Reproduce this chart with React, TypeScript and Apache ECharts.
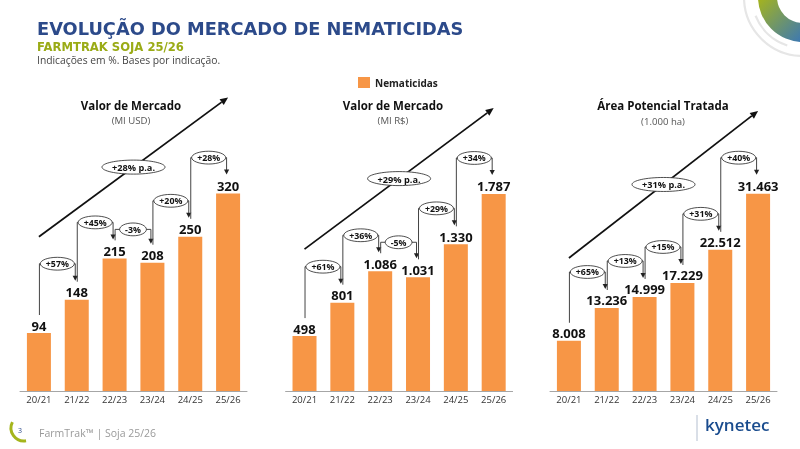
import React, { useEffect, useRef } from "react";
import * as echarts from "echarts";

const categories = ["20/21", "21/22", "22/23", "23/24", "24/25", "25/26"];

const usdValues = [94, 148, 215, 208, 250, 320];
const usdGrowth = ["+57%", "+45%", "-3%", "+20%", "+28%"];
const usdCagr = "+28% p.a.";
const usdTrend = [250, 476];

const brlValues = [498, 801, 1086, 1031, 1330, 1787];
const brlGrowth = ["+61%", "+36%", "-5%", "+29%", "+34%"];
const brlCagr = "+29% p.a.";
const brlTrend = [1287, 2566];

const areaValues = [8008, 13236, 14999, 17229, 22512, 31463];
const areaGrowth = ["+65%", "+13%", "+15%", "+31%", "+40%"];
const areaCagr = "+31% p.a.";
const areaTrend = [21212, 44657];

const panelTitles = ["Valor de Mercado", "Valor de Mercado", "Área Potencial Tratada"];
const panelUnits = ["(MI USD)", "(MI R$)", "(1.000 ha)"];
const axisMax = [488, 2730, 48000];

const ORANGE = "#F79646";
const BODY = '"Open Sans", "DejaVu Sans", sans-serif';
const HEAD = '"DejaVu Sans", sans-serif';

let measureCtx: CanvasRenderingContext2D | null = null;
function textWidth(t: string, font: string) {
  if (!measureCtx) measureCtx = document.createElement("canvas").getContext("2d");
  if (!measureCtx) return t.length * 5;
  measureCtx.font = font;
  return measureCtx.measureText(t).width;
}

function fmt(v: number) {
  return String(v).replace(/\B(?=(\d{3})+(?!\d))/g, ".");
}

function txt(text: string, x: number, y: number, font: string, fill: string, align = "center") {
  return {
    type: "text",
    x,
    y,
    style: {
      text,
      font,
      fill,
      align,
      textAlign: align,
      verticalAlign: "middle",
      textVerticalAlign: "middle",
    },
  };
}

const pillFont = `bold 8.8px ${BODY}`;
const cagrFont = `bold 9.2px ${BODY}`;

function bracketSeries(idx: number, values: number[], growth: string[]) {
  return {
    type: "custom",
    xAxisIndex: idx,
    yAxisIndex: idx,
    silent: true,
    z: 5,
    data: growth.map((_, i) => [i, values[i]]),
    encode: { x: 0, y: 1 },
    renderItem: (params: any, api: any) => {
      const i = params.dataIndex;
      const p0 = api.coord([i, values[i]]);
      const p1 = api.coord([i + 1, values[i + 1]]);
      const sx = p0[0] + 0.5;
      const sy = p0[1] - 18;
      const ex = p1[0] - 1.5;
      const ty = p1[1] - 19;
      const inc = values[i + 1] >= values[i];
      const h = Math.min(sy, ty) - (inc ? 17 : 11);
      const label = growth[i];
      const rx = textWidth(label, pillFont) / 2 + 5.5;
      const cx = (sx + ex) / 2;
      return {
        type: "group",
        children: [
          {
            type: "polyline",
            shape: { points: [[sx, sy], [sx, h], [ex, h], [ex, ty - 4]] },
            style: { stroke: "#444", lineWidth: 1, fill: null },
          },
          {
            type: "polygon",
            shape: { points: [[ex - 2.6, ty - 5], [ex + 2.6, ty - 5], [ex, ty]] },
            style: { fill: "#222" },
          },
          {
            type: "ellipse",
            shape: { cx, cy: h, rx, ry: 6.4 },
            style: { fill: "#fff", stroke: "#222", lineWidth: 0.8 },
          },
          txt(label, cx, h + 0.5, pillFont, "#111"),
        ],
      };
    },
  };
}

function trendSeries(idx: number, trend: number[], label: string) {
  return {
    type: "custom",
    xAxisIndex: idx,
    yAxisIndex: idx,
    silent: true,
    z: 6,
    data: [[0, trend[0], 5, trend[1]]],
    encode: { x: 0, y: 1 },
    renderItem: (params: any, api: any) => {
      const a = api.coord([api.value(0), api.value(1)]);
      const b = api.coord([api.value(2), api.value(3)]);
      const dx = b[0] - a[0];
      const dy = b[1] - a[1];
      const len = Math.sqrt(dx * dx + dy * dy);
      const ux = dx / len;
      const uy = dy / len;
      const L = 8;
      const W = 3.5;
      const bx = b[0] - ux * L;
      const by = b[1] - uy * L;
      const mx = (a[0] + b[0]) / 2;
      const my = (a[1] + b[1]) / 2;
      const rx = textWidth(label, cagrFont) / 2 + 10;
      return {
        type: "group",
        children: [
          {
            type: "line",
            shape: { x1: a[0], y1: a[1], x2: bx, y2: by },
            style: { stroke: "#111", lineWidth: 1.8 },
          },
          {
            type: "polygon",
            shape: {
              points: [
                [b[0], b[1]],
                [bx - uy * W, by + ux * W],
                [bx + uy * W, by - ux * W],
              ],
            },
            style: { fill: "#111" },
          },
          {
            type: "ellipse",
            shape: { cx: mx, cy: my, rx, ry: 7 },
            style: { fill: "#fff", stroke: "#222", lineWidth: 0.8 },
          },
          txt(label, mx, my + 0.5, cagrFont, "#111"),
        ],
      };
    },
  };
}

function barSeries(idx: number, values: number[]) {
  return {
    type: "bar",
    name: "Nematicidas",
    xAxisIndex: idx,
    yAxisIndex: idx,
    data: values,
    barWidth: 24,
    itemStyle: { color: ORANGE },
    label: {
      show: true,
      position: "top",
      distance: 1,
      formatter: (p: any) => fmt(p.value),
      fontFamily: BODY,
      fontWeight: "bold",
      fontSize: 13,
      color: "#111",
    },
  };
}

const gridLefts = [20, 285.6, 550];

export default function App() {
  const ref = useRef<HTMLDivElement>(null);
  useEffect(() => {
    if (!ref.current) return;
    const chart = echarts.init(ref.current, null, { renderer: "svg" });
    const grids = gridLefts.map((l) => ({ left: l, width: 227, top: 90, bottom: 58 }));
    const xAxes = gridLefts.map((_, i) => ({
      type: "category",
      gridIndex: i,
      data: categories,
      axisLine: { lineStyle: { color: "#a6a6a6", width: 1 } },
      axisTick: { show: false },
      axisLabel: { color: "#333", fontSize: 9.5, fontFamily: BODY, margin: 3 },
    }));
    const yAxes = axisMax.map((m, i) => ({
      type: "value",
      gridIndex: i,
      min: 0,
      max: m,
      show: false,
      splitLine: { show: false },
    }));
    const panelCenters = [131, 393, 663];
    const graphics: any[] = [
      txt("EVOLUÇÃO DO MERCADO DE NEMATICIDAS", 37, 28, `bold 17.8px ${HEAD}`, "#2C4A8A", "left"),
      txt("FARMTRAK SOJA 25/26", 37, 46.5, `bold 11.6px ${HEAD}`, "#9AAB16", "left"),
      txt("Indicações em %. Bases por indicação.", 37, 60, `10.3px ${BODY}`, "#444", "left"),
      txt("FarmTrak™ | Soja 25/26", 39, 433, `10.5px ${BODY}`, "#9a9a9a", "left"),
      txt("3", 20, 430, `7px ${BODY}`, "#2C4A8A"),
      txt("kynetec", 705, 424, `600 17px ${BODY}`, "#1a4c8e", "left"),
      {
        type: "line",
        shape: { x1: 697, y1: 415, x2: 697, y2: 441 },
        style: { stroke: "#b4bfd0", lineWidth: 1 },
      },
      {
        type: "arc",
        shape: { cx: 24, cy: 428, r: 13, startAngle: Math.PI * 0.45, endAngle: Math.PI * 1.15 },
        style: { stroke: "#A5B51C", lineWidth: 3, fill: null },
      },
      {
        type: "arc",
        shape: { cx: 803, cy: -3, r: 59, startAngle: Math.PI * 0.5, endAngle: Math.PI },
        style: { stroke: "#e6e6e6", lineWidth: 2.2, fill: null },
      },
      {
        type: "arc",
        shape: { cx: 803, cy: -3, r: 51, startAngle: Math.PI * 0.6, endAngle: Math.PI * 0.88 },
        style: { stroke: "#e6e6e6", lineWidth: 2.2, fill: null },
      },
      {
        type: "sector",
        shape: { cx: 803, cy: -3, r0: 26, r: 45, startAngle: Math.PI * 0.5, endAngle: Math.PI },
        style: {
          fill: {
            type: "linear",
            x: 0,
            y: 0,
            x2: 1,
            y2: 1,
            colorStops: [
              { offset: 0, color: "#A7B51A" },
              { offset: 1, color: "#3A77B6" },
            ],
          },
        },
      },
    ];
    panelCenters.forEach((c, i) => {
      graphics.push(txt(panelTitles[i], c, 105.5, `bold 11.5px ${BODY}`, "#111"));
      graphics.push(txt(panelUnits[i], c, i === 2 ? 121.5 : 120, `9.6px ${BODY}`, "#555"));
    });

    chart.setOption({
      animation: false,
      legend: {
        data: ["Nematicidas"],
        left: 353,
        top: 72,
        icon: "rect",
        itemWidth: 12,
        itemHeight: 11,
        itemGap: 5,
        textStyle: { fontFamily: BODY, fontWeight: "bold", fontSize: 10, color: "#222" },
        selectedMode: false,
      },
      grid: grids,
      xAxis: xAxes,
      yAxis: yAxes,
      graphic: graphics,
      series: [
        barSeries(0, usdValues),
        barSeries(1, brlValues),
        barSeries(2, areaValues),
        bracketSeries(0, usdValues, usdGrowth),
        bracketSeries(1, brlValues, brlGrowth),
        bracketSeries(2, areaValues, areaGrowth),
        trendSeries(0, usdTrend, usdCagr),
        trendSeries(1, brlTrend, brlCagr),
        trendSeries(2, areaTrend, areaCagr),
      ],
    });
    return () => chart.dispose();
  }, []);
  return <div ref={ref} style={{ width: 800, height: 449, position: "fixed", left: 0, top: 0 }} />;
}
